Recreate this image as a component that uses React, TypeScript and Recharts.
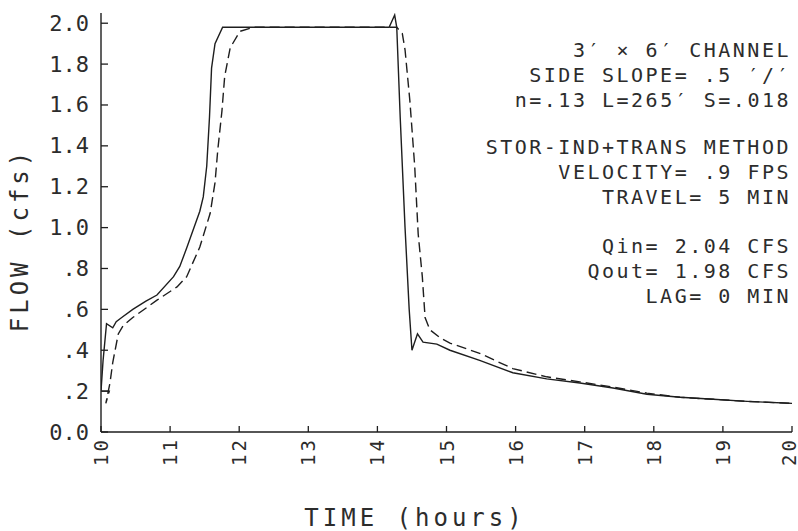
import React from "react";
import { LineChart, Line, XAxis, YAxis } from "recharts";

// inflow hydrograph (solid)
const inflowHours = [
  10.0, 10.03, 10.08, 10.17, 10.22, 10.3, 10.46, 10.65, 10.81, 11.05, 11.14, 11.24,
  11.43, 11.48, 11.53, 11.57, 11.6, 11.65, 11.76, 14.17, 14.25, 14.28, 14.33, 14.4,
  14.46, 14.5, 14.58, 14.66, 14.86, 15.05, 15.48, 15.96, 16.45, 16.93, 17.41, 17.9,
  18.38, 18.86, 19.35, 20.0,
];
const inflowCfs = [
  0.2, 0.35, 0.53, 0.51, 0.54, 0.56, 0.6, 0.64, 0.67, 0.76, 0.81, 0.9,
  1.08, 1.15, 1.3, 1.54, 1.78, 1.9, 1.98, 1.98, 2.04, 1.98, 1.54, 1.0,
  0.6, 0.4, 0.48, 0.44, 0.43, 0.4, 0.35, 0.29, 0.26, 0.24, 0.215, 0.185,
  0.17, 0.16, 0.15, 0.14,
];

// routed outflow (dashed)
const outflowHours = [
  10.01, 10.12, 10.07, 10.13, 10.17, 10.25, 10.32, 10.46, 10.81, 11.1, 11.24, 11.43,
  11.58, 11.65, 11.69, 11.75, 11.79, 11.87, 12.01, 12.2, 14.28, 14.36, 14.4, 14.47,
  14.54, 14.59, 14.65, 14.69, 14.76, 14.91, 15.05, 15.48, 15.96, 16.45, 16.93, 17.41,
  17.9, 18.38, 18.86, 19.35, 20.0,
];
const outflowCfs = [
  0.2, 0.2, 0.14, 0.24, 0.34, 0.48, 0.52, 0.56, 0.645, 0.71, 0.76, 0.905,
  1.07, 1.22, 1.38, 1.57, 1.74, 1.88, 1.96, 1.98, 1.98, 1.95, 1.87, 1.62,
  1.3, 0.97, 0.76, 0.56, 0.5, 0.46, 0.435, 0.385, 0.31, 0.27, 0.245, 0.22,
  0.19, 0.17, 0.16, 0.15, 0.14,
];

const xTicks = [10, 11, 12, 13, 14, 15, 16, 17, 18, 19, 20];
const yTicks = [0, 0.2, 0.4, 0.6, 0.8, 1.0, 1.2, 1.4, 1.6, 1.8, 2.0];
const yTickLabels = ["0.0", ".2", ".4", ".6", ".8", "1.0", "1.2", "1.4", "1.6", "1.8", "2.0"];

const notes = [
  ["3′ × 6′ CHANNEL", "SIDE SLOPE= .5 ′/′", "n=.13 L=265′ S=.018"],
  ["STOR-IND+TRANS METHOD", "VELOCITY= .9 FPS", "TRAVEL= 5 MIN"],
  ["Qin= 2.04 CFS", "Qout= 1.98 CFS", "LAG= 0 MIN"],
];

const inflow = inflowHours.map((t, i) => ({ t, q: inflowCfs[i] }));
const outflow = outflowHours.map((t, i) => ({ t, q: outflowCfs[i] }));

const FONT = "'DejaVu Sans Mono', monospace";
const INK = "#1e1e1e";
const TEXT = "#2c2c2c";
const W = 798;

const YTick = (props: any) => {
  const { x, y, payload } = props;
  const idx = yTicks.indexOf(payload.value);
  return (
    <g>
      <line x1={x} y1={y} x2={x + 7} y2={y} stroke={INK} strokeWidth={1.3} />
      <text x={x - 12} y={y} textAnchor="end" dominantBaseline="central"
        fontFamily={FONT} fontSize={22} fill={TEXT}>
        {idx >= 0 ? yTickLabels[idx] : payload.value}
      </text>
    </g>
  );
};

const XTick = (props: any) => {
  const { x, y, payload } = props;
  const ty = y + 5;
  // keep the last label inside the page
  const tx = Math.min(x, W - 9.5);
  return (
    <g>
      <line x1={x} y1={y} x2={x} y2={y - 6} stroke={INK} strokeWidth={1.3} />
      <text x={tx} y={ty} transform={`rotate(-90 ${tx} ${ty})`} textAnchor="end"
        dominantBaseline="central" fontFamily={FONT} fontSize={19} fill={TEXT}
        style={{ letterSpacing: 3 }}>
        {payload.value}
      </text>
    </g>
  );
};

export default function App() {
  const noteStart = [57, 154, 253];
  return (
    <div style={{ position: "absolute", left: 0, top: 0, width: W, height: 531, background: "#fff" }}>
      <LineChart width={W} height={531} data={inflow}
        margin={{ top: 13, right: 6, left: 41, bottom: 59 }}>
        <XAxis dataKey="t" type="number" domain={[10, 20]} ticks={xTicks} interval={0}
          tickSize={0} tickMargin={0} height={40} tick={<XTick />}
          axisLine={{ stroke: INK, strokeWidth: 1.4 }} allowDataOverflow />
        <YAxis dataKey="q" type="number" domain={[0, 2.05]} ticks={yTicks} interval={0}
          tickSize={0} tickMargin={0} width={60} tick={<YTick />}
          axisLine={{ stroke: INK, strokeWidth: 1.4 }} allowDataOverflow />
        <Line data={inflow} dataKey="q" type="linear" stroke={INK} strokeWidth={1.4}
          dot={false} isAnimationActive={false} />
        <Line data={outflow} dataKey="q" type="linear" stroke={INK} strokeWidth={1.4}
          strokeDasharray="10 5" dot={false} isAnimationActive={false} />
        {notes.map((block, b) =>
          block.map((line, i) => (
            <text key={`${b}-${i}`} x={791} y={noteStart[b] + i * 25} textAnchor="end"
              fontFamily={FONT} fontSize={20} fill={TEXT} style={{ letterSpacing: 2.5 }}>
              {line}
            </text>
          ))
        )}
        <text x={415} y={526} textAnchor="middle" fontFamily={FONT} fontSize={24}
          fill={TEXT} style={{ letterSpacing: 4 }}>
          TIME (hours)
        </text>
        <text x={28} y={240} transform="rotate(-90 28 240)" textAnchor="middle"
          fontFamily={FONT} fontSize={24} fill={TEXT} style={{ letterSpacing: 4 }}>
          FLOW (cfs)
        </text>
      </LineChart>
    </div>
  );
}
